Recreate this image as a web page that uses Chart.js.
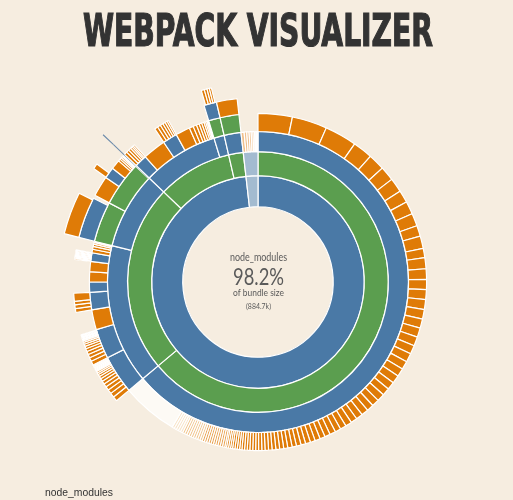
<!DOCTYPE html>
<html>
<head>
<meta charset="utf-8">
<script src="https://cdn.jsdelivr.net/npm/chart.js@4.4.1/dist/chart.umd.min.js"></script>
<style>
  html, body { margin: 0; padding: 0; background: #f6ede0; }
  canvas { display: block; }
</style>
</head>
<body>
<canvas id="sunburst" width="513" height="500"></canvas>
<script>
// DATA - sizes, clockwise from 12 o'clock (360 = whole bundle)
// kinds: N = folder, P = package, F = file, g/h/k = hairline files (paler and paler),
//        n/f = faded (not hovered), T = tiny files, S = hairline path, - = empty
const ring1 = [[353.5, 'N'], [6.5, 'n']];
const ring2 = [[230, 'P'], [83.7, 'P'], [33.3, 'P'], [6.5, 'P'], [6.5, 'n']];
const ring3 = [[230, 'N'], [54, 'N'], [29.7, 'N'], [29.3, 'N'], [4, 'N'], [6.5, 'N'],
    [1.2, 'f'], [1.0, 'f'], [0.9, 'f'], [0.8, 'f'], [0.7, 'f'], [0.6, 'f'], [0.5, 'f'], [0.4, 'f'], [0.4, 'f']];

// ring 4, right half: one long run of files getting smaller
const ring4Files = [11.8, 12.1, 11.1, 6.8, 5.7, 5.0, 4.9, 4.3, 4.4, 4.4, 3.7, 4.3, 3.2, 3.8,
    3.6, 3.5, 3.4, 3.4, 3.3, 3.2, 3.2, 3.1, 3.0, 3.0,
    2.9, 2.8, 2.8, 2.7, 2.6, 2.6, 2.5, 2.4, 2.4, 2.3,
    2.2, 2.2, 2.1, 2.0, 2.0, 1.9, 1.8, 1.8, 1.7, 1.7,
    1.6, 1.6, 1.5, 1.5, 1.4, 1.4, 1.3, 1.3, 1.2, 1.2,
    1.1, 1.1, 1.0, 1.0, 1.0, 0.9, 0.9, 0.9, 0.8, 0.8,
    0.8, 0.8, 0.7, 0.7, 0.7, 0.6];
const ring4Pale = [[0.8, 'g'], [0.8, 'g'], [0.8, 'g'], [0.8, 'g'], [0.8, 'g'], [0.8, 'g'], [0.8, 'g'], [0.8, 'g'], [0.8, 'g'], [0.8, 'g'],
    [0.8, 'h'], [0.8, 'h'], [0.8, 'h'], [0.8, 'h'], [0.8, 'h'], [0.8, 'h'], [0.8, 'h'], [0.8, 'h'], [0.8, 'h'],
    [0.8, 'k'], [0.8, 'k'], [0.8, 'k'], [0.8, 'k'], [0.8, 'k']];
const ring4Rest = [[19.4, 'T'], [13.3, 'N'], [10.3, 'N'], [6.9, 'F'], [6.0, 'N'], [3.5, 'N'],
    [3.5, 'F'], [3.5, 'F'], [3.0, 'N'], [1.2, 'F'], [1.0, 'F'], [0.8, 'F'], [0.6, 'F'], [0.4, 'F'],
    [14, 'P'], [15.4, 'P'], [0.3, 'S'], [4.3, 'N'], [8, 'F'], [5, 'N'], [5, 'F'],
    [1.4, 'F'], [1.2, 'F'], [1.0, 'F'], [0.9, 'F'], [0.8, 'F'], [0.6, 'F'], [0.5, 'F'], [0.3, 'F'], [0.3, 'F'],
    [4, 'P'], [6.5, 'P'], [6.5, '-']];

const ring5 = [[230, '-'],
    [1.5, 'F'], [1.4, 'F'], [1.3, 'F'], [1.2, 'F'], [1.1, 'F'], [1.0, 'F'], [0.9, 'F'], [0.8, 'F'], [0.7, 'F'], [0.6, 'F'], [0.5, 'F'],
    [0.3, 'F'], [0.3, 'F'], [0.3, 'F'], [0.25, 'F'], [0.25, 'F'], [0.2, 'F'], [0.2, 'F'], [0.2, 'F'], [0.2, 'F'], [0.1, 'F'],
    [1.3, 'F'], [1.2, 'F'], [1.1, 'F'], [1.0, 'F'], [0.9, 'F'], [0.8, 'F'], [0.7, 'F'], [0.6, 'F'], [0.5, 'F'],
    [0.3, 'F'], [0.3, 'F'], [0.3, 'F'], [0.25, 'F'], [0.25, 'F'], [0.2, 'F'], [0.2, 'F'], [0.2, 'F'],
    [0.2, '-'], [6.9, '-'],
    [1.2, 'F'], [1.2, 'F'], [1.1, 'F'], [2.5, 'F'],
    [10.5, '-'],
    [0.4, 'F'], [0.3, 'F'], [0.3, 'F'], [0.3, 'F'], [0.3, 'F'], [0.3, 'F'], [0.3, 'F'], [0.3, 'F'], [0.25, 'F'], [0.25, 'F'],
    [4, '-'], [13, 'N'], [1, '-'], [6.5, 'F'], [3.5, 'N'], [3.0, 'F'],
    [0.7, 'F'], [0.6, 'F'], [0.5, 'F'], [0.4, 'F'], [0.2, 'F'], [0.3, 'S'],
    [1.0, 'F'], [0.9, 'F'], [0.8, 'F'], [0.6, 'F'], [0.5, 'F'], [0.5, 'F'],
    [8, '-'], [1.1, 'F'], [1.0, 'F'], [0.9, 'F'], [0.8, 'F'], [0.7, 'F'], [0.5, 'F'],
    [12, '-'], [4, 'N'], [6.5, 'F'], [6.5, '-']];

const ring6 = [[284, '-'], [12.4, 'F'], [8.2, '-'], [1.6, 'F'], [7.2, '-'], [0.3, 'S'], [29.8, '-'],
    [0.9, 'F'], [0.8, 'F'], [0.7, 'F'], [0.6, 'F'], [13.5, '-']];
const ring7 = [[313.4, '-'], [0.3, 'S'], [46.3, '-']];

// ring thickness (px) from the inside out, and the hole
const ringWeights = [31, 24, 20, 18, 16, 15, 14];
const holeShare = '35.2%';

const kindColors = {
    N: '#4a79a6', P: '#5b9e4f', F: '#df7b07', n: '#a3bbd0', f: '#f0c08c',
    g: '#e9a352', h: '#f1c68f', k: '#f8e3c6',
    T: '#fdfaf5', S: '#6d8cab', '-': 'rgba(0,0,0,0)'
};

const ring4 = ring4Files.map(v => [v, 'F']).concat(ring4Pale, ring4Rest);
const rings = [ring1, ring2, ring3, ring4, ring5, ring6, ring7];

// Chart.js draws dataset 0 outermost
const datasets = rings.map((ring, i) => ({
    data: ring.map(s => s[0]),
    backgroundColor: ring.map(s => kindColors[s[1]]),
    borderColor: '#ffffff',
    borderWidth: ring.map(s => (s[1] === '-' || s[1] === 'S') ? 0 : 1.2),
    weight: ringWeights[i]
})).reverse();

// TEXTS
function fitText(ctx, text, x, y, width) {
    const w = ctx.measureText(text).width;
    ctx.save();
    ctx.translate(x, y);
    ctx.scale(width / w, 1);
    ctx.fillText(text, 0, 0);
    ctx.restore();
}

const centerText = {
    id: 'centerText',
    afterDraw(chart) {
        const ctx = chart.ctx;
        ctx.save();
        // title
        ctx.fillStyle = '#333333';
        ctx.strokeStyle = '#333333';
        ctx.lineWidth = 1.2;
        ctx.font = 'bold 44px "Liberation Sans Narrow", "DejaVu Sans Condensed", sans-serif';
        ctx.textBaseline = 'alphabetic';
        ctx.textAlign = 'left';
        const t = 'WEBPACK VISUALIZER';
        const w = ctx.measureText(t).width;
        ctx.translate(83, 46);
        ctx.scale(350 / w, 1);
        ctx.fillText(t, 0, 0);
        ctx.strokeText(t, 0, 0);
        ctx.restore();

        ctx.save();
        ctx.textAlign = 'left';
        ctx.textBaseline = 'middle';
        ctx.fillStyle = '#5a5a5a';
        ctx.font = '10.5px Lato, "Noto Sans", sans-serif';
        fitText(ctx, 'node_modules', 230, 258, 57);
        ctx.font = '23px Lato, "Noto Sans", sans-serif';
        fitText(ctx, '98.2%', 233, 278, 51);
        ctx.font = '10px Lato, "Noto Sans", sans-serif';
        fitText(ctx, 'of bundle size', 233, 293, 51);
        ctx.font = '8px Lato, "Noto Sans", sans-serif';
        fitText(ctx, '(884.7k)', 246, 306, 25);

        ctx.textBaseline = 'alphabetic';
        ctx.fillStyle = '#333333';
        ctx.font = '11px "Liberation Sans", Arial, sans-serif';
        fitText(ctx, 'node_modules', 45, 496, 68);
        ctx.restore();
    }
};

new Chart(document.getElementById('sunburst'), {
    type: 'doughnut',
    data: { datasets: datasets },
    options: {
        responsive: false,
        animation: false,
        events: [],
        cutout: holeShare,
        layout: { padding: { left: 44.25, right: 41.25, top: 68.25, bottom: 4.25 } },
        plugins: { legend: { display: false }, tooltip: { enabled: false } }
    },
    plugins: [centerText]
});
</script>
</body>
</html>
